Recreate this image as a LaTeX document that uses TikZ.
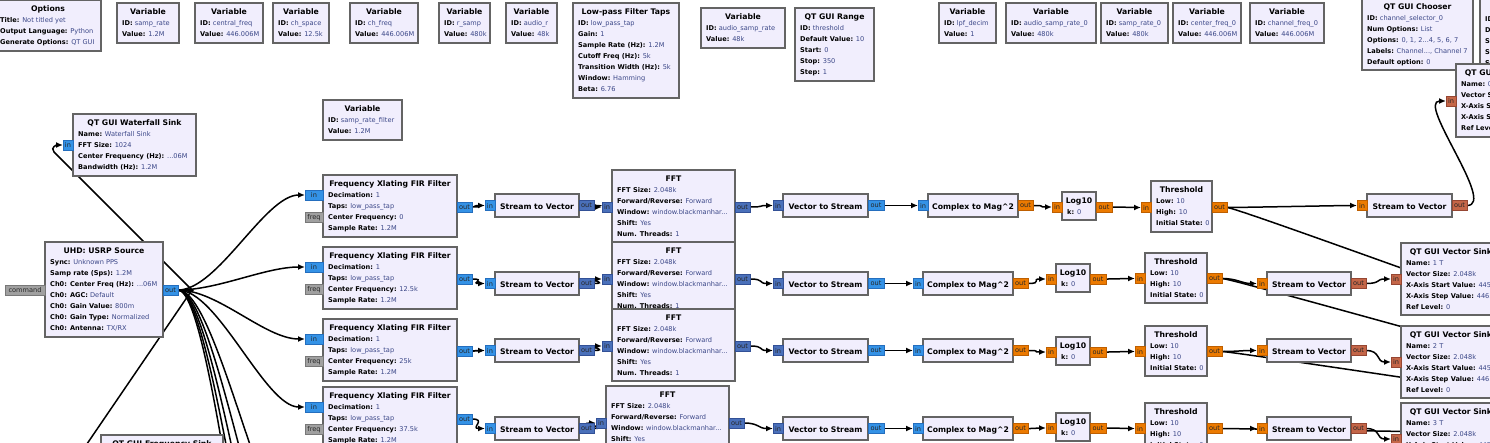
\documentclass[tikz,border=0pt]{standalone}
\usepackage{fontspec}
\setmainfont{DejaVu Sans}
\usetikzlibrary{calc,arrows.meta}
\pgfdeclarelayer{bg}
\pgfsetlayers{bg,main}
\definecolor{blkfill}{RGB}{241,238,253}
\definecolor{blkdraw}{RGB}{100,100,100}
\definecolor{valc}{RGB}{58,70,135}
\definecolor{cplx}{RGB}{52,146,230}
\definecolor{cplxd}{RGB}{36,110,190}
\definecolor{cvec}{RGB}{74,112,186}
\definecolor{cvecd}{RGB}{50,80,150}
\definecolor{flt}{RGB}{236,122,0}
\definecolor{fltd}{RGB}{190,95,0}
\definecolor{fvec}{RGB}{196,102,72}
\definecolor{fvecd}{RGB}{150,70,50}
\definecolor{msg}{RGB}{160,160,160}
\definecolor{msgd}{RGB}{120,120,120}
\tikzset{
 blk/.style={draw=blkdraw, fill=blkfill, line width=1.4pt, rectangle, inner sep=0pt, outer sep=0pt},
 ttl/.style={font=\bfseries\fontsize{7.7}{9}\selectfont, inner sep=0pt, text=black},
 prm/.style={font=\fontsize{6.6}{11}\selectfont, inner sep=0pt, align=left, text=valc},
 port/.style={rectangle, inner sep=0pt, outer sep=0pt, minimum height=10pt, line width=0.6pt, font=\fontsize{6.6}{8}\selectfont, text=black!85},
 pc/.style={port, fill=cplx, draw=cplxd},
 pv/.style={port, fill=cvec, draw=cvecd},
 pf/.style={port, fill=flt, draw=fltd},
 pfv/.style={port, fill=fvec, draw=fvecd},
 pm/.style={port, fill=msg, draw=msgd},
 conn/.style={draw=black, line width=1.5pt, -{Latex[length=7pt,width=6pt]}},
 wire/.style={draw=black, line width=1.5pt},
}
\newcommand\pl[2]{\rule{0pt}{7pt}\textbf{\color{black}#1:} #2}
\newcommand\gblk[7]{%
 \node[blk, minimum width=#4pt, minimum height=#5pt, anchor=north west] (#1) at (#2,#3) {};
 \node[ttl, anchor=base] (#1-t) at ($(#1.north)+(0,11)$) {#6};
 \node[prm, anchor=north west] (#1-p) at ($(#1.north west)+(5,15.3)$) {#7};}
\newcommand\sblk[6]{%
 \node[blk, minimum width=#4pt, minimum height=#5pt, anchor=north west] (#1) at (#2,#3) {};
 \node[ttl, anchor=base] (#1-t) at ($(#1.center)+(0,3.5)$) {#6};}
\newcommand\pin[6]{\node[#2, minimum width=#5pt, anchor=east] (#1) at (#3,#4) {#6};}
\newcommand\pout[6]{\node[#2, minimum width=#5pt, anchor=west] (#1) at (#3,#4) {#6};}
\newcommand\cn[2]{\draw[conn] (#1.east) .. controls +(15,0) and +(-15,0) .. (#2.west);}
\begin{document}
\begin{tikzpicture}[x=1pt,y=-1pt]
\useasboundingbox (0,0) rectangle (1490,442);
% ---------- top row ----------
\gblk{opt}{-5}{0}{106}{51}{Options}{\pl{Title}{Not titled yet}\\\pl{Output Language}{Python}\\\pl{Generate Options}{QT GUI}}
\gblk{v1}{117}{3}{62}{40}{Variable}{\pl{ID}{samp\_rate}\\\pl{Value}{1.2M}}
\gblk{v2}{195}{3}{68}{40}{Variable}{\pl{ID}{central\_freq}\\\pl{Value}{446.006M}}
\gblk{v3}{273}{3}{56}{40}{Variable}{\pl{ID}{ch\_space}\\\pl{Value}{12.5k}}
\gblk{v4}{350}{3}{68}{40}{Variable}{\pl{ID}{ch\_freq}\\\pl{Value}{446.006M}}
\gblk{v5}{439}{3}{51}{40}{Variable}{\pl{ID}{r\_samp}\\\pl{Value}{480k}}
\gblk{v6}{506}{3}{51}{40}{Variable}{\pl{ID}{audio\_r}\\\pl{Value}{48k}}
\gblk{lpf}{573}{3}{106}{95}{Low-pass Filter Taps}{\pl{ID}{low\_pass\_tap}\\\pl{Gain}{1}\\\pl{Sample Rate (Hz)}{1.2M}\\\pl{Cutoff Freq (Hz)}{5k}\\\pl{Transition Width (Hz)}{5k}\\\pl{Window}{Hamming}\\\pl{Beta}{6.76}}
\gblk{v7}{701}{8}{84}{40}{Variable}{\pl{ID}{audio\_samp\_rate}\\\pl{Value}{48k}}
\gblk{rng}{795}{8}{79}{73}{QT GUI Range}{\pl{ID}{threshold}\\\pl{Default Value}{10}\\\pl{Start}{0}\\\pl{Stop}{350}\\\pl{Step}{1}}
\gblk{v8}{939}{3}{57}{40}{Variable}{\pl{ID}{lpf\_decim}\\\pl{Value}{1}}
\gblk{v9}{1006}{3}{90}{40}{Variable}{\pl{ID}{audio\_samp\_rate\_0}\\\pl{Value}{480k}}
\gblk{v10}{1101}{3}{67}{40}{Variable}{\pl{ID}{samp\_rate\_0}\\\pl{Value}{480k}}
\gblk{v11}{1173}{3}{68}{40}{Variable}{\pl{ID}{center\_freq\_0}\\\pl{Value}{446.006M}}
\gblk{v12}{1250}{3}{74}{40}{Variable}{\pl{ID}{channel\_freq\_0}\\\pl{Value}{446.006M}}
\gblk{rng2}{1480}{-1}{80}{73}{QT GUI Range}{\pl{ID}{}\\\pl{Default Value}{}\\\pl{Start}{}\\\pl{Stop}{}\\\pl{Step}{}}
\gblk{cho}{1362}{-2}{111}{72}{QT GUI Chooser}{\pl{ID}{channel\_selector\_0}\\\pl{Num Options}{List}\\\pl{Options}{0, 1, 2...4, 5, 6, 7}\\\pl{Labels}{Channel..., Channel 7}\\\pl{Default option}{0}}
\gblk{vs0}{1456}{64}{100}{73}{QT GUI Vector Sink}{\pl{Name}{0 T}\\\pl{Vector Size}{2.048k}\\\pl{X-Axis Start Value}{445.406M}\\\pl{X-Axis Step Value}{446.006M}\\\pl{Ref Level}{0}}
\pin{vs0-in}{pfv}{1456}{101}{10}{in}
% ---------- middle ----------
\gblk{srf}{323}{100}{79}{40}{Variable}{\pl{ID}{samp\_rate\_filter}\\\pl{Value}{1.2M}}
\gblk{wf}{73}{114}{123}{62}{QT GUI Waterfall Sink}{\pl{Name}{Waterfall Sink}\\\pl{FFT Size}{1024}\\\pl{Center Frequency (Hz)}{...06M}\\\pl{Bandwidth (Hz)}{1.2M}}
\pin{wf-in}{pc}{73}{145}{10}{in}
\gblk{usrp}{45}{242}{118}{95}{UHD: USRP Source}{\pl{Sync}{Unknown PPS}\\\pl{Samp rate (Sps)}{1.2M}\\\pl{Ch0: Center Freq (Hz)}{...06M}\\\pl{Ch0: AGC}{Default}\\\pl{Ch0: Gain Value}{800m}\\\pl{Ch0: Gain Type}{Normalized}\\\pl{Ch0: Antenna}{TX/RX}}
\pin{usrp-cmd}{pm}{45}{290}{40}{command}
\pout{usrp-out}{pc}{163}{290}{15}{out}
\gblk{fs}{101}{435}{122}{72}{QT GUI Frequency Sink}{}
\pin{fs-in}{pc}{101}{471}{10}{in}
% FIR filters
\gblk{fir1}{323}{175}{134}{62}{Frequency Xlating FIR Filter}{\pl{Decimation}{1}\\\pl{Taps}{low\_pass\_tap}\\\pl{Center Frequency}{0}\\\pl{Sample Rate}{1.2M}}
\gblk{fir2}{323}{247}{134}{62}{Frequency Xlating FIR Filter}{\pl{Decimation}{1}\\\pl{Taps}{low\_pass\_tap}\\\pl{Center Frequency}{12.5k}\\\pl{Sample Rate}{1.2M}}
\gblk{fir3}{323}{319}{134}{62}{Frequency Xlating FIR Filter}{\pl{Decimation}{1}\\\pl{Taps}{low\_pass\_tap}\\\pl{Center Frequency}{25k}\\\pl{Sample Rate}{1.2M}}
\gblk{fir4}{323}{387}{134}{62}{Frequency Xlating FIR Filter}{\pl{Decimation}{1}\\\pl{Taps}{low\_pass\_tap}\\\pl{Center Frequency}{37.5k}\\\pl{Sample Rate}{1.2M}}
\pin{fir1-in}{pc}{323}{195}{18}{in}\pin{fir1-f}{pm}{323}{217.5}{18}{freq}\pout{fir1-out}{pc}{457}{207}{15}{out}
\pin{fir2-in}{pc}{323}{267}{18}{in}\pin{fir2-f}{pm}{323}{289.5}{18}{freq}\pout{fir2-out}{pc}{457}{279}{15}{out}
\pin{fir3-in}{pc}{323}{339}{18}{in}\pin{fir3-f}{pm}{323}{361.5}{18}{freq}\pout{fir3-out}{pc}{457}{351}{15}{out}
\pin{fir4-in}{pc}{323}{407}{18}{in}\pin{fir4-f}{pm}{323}{429.5}{18}{freq}\pout{fir4-out}{pc}{457}{419}{15}{out}
% Stream to Vector (left)
\sblk{sa1}{495}{194}{84}{23}{Stream to Vector}
\sblk{sa2}{495}{272}{84}{23}{Stream to Vector}
\sblk{sa3}{495}{339}{84}{23}{Stream to Vector}
\sblk{sa4}{495}{417}{84}{23}{Stream to Vector}
\pin{sa1-in}{pc}{495}{205.5}{10}{in}\pout{sa1-out}{pv}{579}{205.5}{15}{out}
\pin{sa2-in}{pc}{495}{283.5}{10}{in}\pout{sa2-out}{pv}{579}{283.5}{15}{out}
\pin{sa3-in}{pc}{495}{350.5}{10}{in}\pout{sa3-out}{pv}{579}{350.5}{15}{out}
\pin{sa4-in}{pc}{495}{428.5}{10}{in}\pout{sa4-out}{pv}{579}{428.5}{15}{out}
% FFT
\gblk{fft1}{612}{170}{123}{72}{FFT}{\pl{FFT Size}{2.048k}\\\pl{Forward/Reverse}{Forward}\\\pl{Window}{window.blackmanhar...}\\\pl{Shift}{Yes}\\\pl{Num. Threads}{1}}
\pin{fft1-in}{pv}{612}{207}{10}{in}\pout{fft1-out}{pv}{735}{207}{15}{out}
\gblk{fft2}{612}{242}{123}{72}{FFT}{\pl{FFT Size}{2.048k}\\\pl{Forward/Reverse}{Forward}\\\pl{Window}{window.blackmanhar...}\\\pl{Shift}{Yes}\\\pl{Num. Threads}{1}}
\pin{fft2-in}{pv}{612}{279}{10}{in}\pout{fft2-out}{pv}{735}{279}{15}{out}
\gblk{fft3}{612}{309}{123}{72}{FFT}{\pl{FFT Size}{2.048k}\\\pl{Forward/Reverse}{Forward}\\\pl{Window}{window.blackmanhar...}\\\pl{Shift}{Yes}\\\pl{Num. Threads}{1}}
\pin{fft3-in}{pv}{612}{346}{10}{in}\pout{fft3-out}{pv}{735}{346}{15}{out}
\gblk{fft4}{606}{386}{123}{72}{FFT}{\pl{FFT Size}{2.048k}\\\pl{Forward/Reverse}{Forward}\\\pl{Window}{window.blackmanhar...}\\\pl{Shift}{Yes}\\\pl{Num. Threads}{1}}
\pin{fft4-in}{pv}{606}{423}{10}{in}\pout{fft4-out}{pv}{729}{423}{15}{out}
% Vector to Stream
\sblk{vt1}{783}{194}{85}{23}{Vector to Stream}
\sblk{vt2}{783}{272}{85}{23}{Vector to Stream}
\sblk{vt3}{783}{339}{85}{23}{Vector to Stream}
\sblk{vt4}{783}{417}{85}{23}{Vector to Stream}
\pin{vt1-in}{pv}{783}{205.5}{10}{in}\pout{vt1-out}{pc}{868}{205.5}{16}{out}
\pin{vt2-in}{pv}{783}{283.5}{10}{in}\pout{vt2-out}{pc}{868}{283.5}{16}{out}
\pin{vt3-in}{pv}{783}{350.5}{10}{in}\pout{vt3-out}{pc}{868}{350.5}{16}{out}
\pin{vt4-in}{pv}{783}{428.5}{10}{in}\pout{vt4-out}{pc}{868}{428.5}{16}{out}
% Complex to Mag^2
\sblk{cm1}{928}{194}{90}{23}{Complex to Mag\textasciicircum{}2}
\sblk{cm2}{923}{272}{90}{23}{Complex to Mag\textasciicircum{}2}
\sblk{cm3}{923}{339}{90}{23}{Complex to Mag\textasciicircum{}2}
\sblk{cm4}{923}{417}{90}{23}{Complex to Mag\textasciicircum{}2}
\pin{cm1-in}{pc}{928}{205.5}{10}{in}\pout{cm1-out}{pf}{1018}{205.5}{15}{out}
\pin{cm2-in}{pc}{923}{283.5}{10}{in}\pout{cm2-out}{pf}{1013}{283.5}{15}{out}
\pin{cm3-in}{pc}{923}{350.5}{10}{in}\pout{cm3-out}{pf}{1013}{350.5}{15}{out}
\pin{cm4-in}{pc}{923}{428.5}{10}{in}\pout{cm4-out}{pf}{1013}{428.5}{15}{out}
% Log10
\gblk{lg1}{1062}{192}{34}{28}{Log10}{\pl{k}{0}}
\gblk{lg2}{1056}{264}{34}{28}{Log10}{\pl{k}{0}}
\gblk{lg3}{1056}{337}{34}{28}{Log10}{\pl{k}{0}}
\gblk{lg4}{1056}{413}{34}{28}{Log10}{\pl{k}{0}}
\pin{lg1-in}{pf}{1062}{207}{10}{in}\pout{lg1-out}{pf}{1096}{207}{16}{out}
\pin{lg2-in}{pf}{1056}{279}{10}{in}\pout{lg2-out}{pf}{1090}{279}{16}{out}
\pin{lg3-in}{pf}{1056}{352}{10}{in}\pout{lg3-out}{pf}{1090}{352}{16}{out}
\pin{lg4-in}{pf}{1056}{428}{10}{in}\pout{lg4-out}{pf}{1090}{428}{16}{out}
% Threshold
\gblk{th1}{1151}{181}{61}{51}{Threshold}{\pl{Low}{10}\\\pl{High}{10}\\\pl{Initial State}{0}}
\gblk{th2}{1145}{253}{62}{50}{Threshold}{\pl{Low}{10}\\\pl{High}{10}\\\pl{Initial State}{0}}
\gblk{th3}{1145}{326}{62}{50}{Threshold}{\pl{Low}{10}\\\pl{High}{10}\\\pl{Initial State}{0}}
\gblk{th4}{1145}{403}{62}{50}{Threshold}{\pl{Low}{10}\\\pl{High}{10}\\\pl{Initial State}{0}}
\pin{th1-in}{pf}{1151}{207.5}{10}{in}\pout{th1-out}{pf}{1212}{207.5}{15}{out}
\pin{th2-in}{pf}{1145}{278.5}{10}{in}\pout{th2-out}{pf}{1207}{278.5}{15}{out}
\pin{th3-in}{pf}{1145}{351.5}{10}{in}\pout{th3-out}{pf}{1207}{351.5}{15}{out}
\pin{th4-in}{pf}{1145}{428.5}{10}{in}\pout{th4-out}{pf}{1207}{428.5}{15}{out}
% Stream to Vector (right)
\sblk{sb1}{1367}{194}{85}{23}{Stream to Vector}
\sblk{sb2}{1267}{272}{84}{23}{Stream to Vector}
\sblk{sb3}{1267}{339}{84}{23}{Stream to Vector}
\sblk{sb4}{1267}{417}{84}{23}{Stream to Vector}
\pin{sb1-in}{pf}{1367}{205.5}{10}{in}\pout{sb1-out}{pfv}{1452}{205.5}{15}{out}
\pin{sb2-in}{pf}{1267}{283.5}{10}{in}\pout{sb2-out}{pfv}{1351}{283.5}{15}{out}
\pin{sb3-in}{pf}{1267}{350.5}{10}{in}\pout{sb3-out}{pfv}{1351}{350.5}{15}{out}
\pin{sb4-in}{pf}{1267}{428.5}{10}{in}\pout{sb4-out}{pfv}{1351}{428.5}{15}{out}
% QT GUI Vector Sinks
\gblk{vs1}{1401}{243}{100}{72}{QT GUI Vector Sink}{\pl{Name}{1 T}\\\pl{Vector Size}{2.048k}\\\pl{X-Axis Start Value}{445.406M}\\\pl{X-Axis Step Value}{446.006M}\\\pl{Ref Level}{0}}
\gblk{vs2}{1401}{326}{100}{72}{QT GUI Vector Sink}{\pl{Name}{2 T}\\\pl{Vector Size}{2.048k}\\\pl{X-Axis Start Value}{445.406M}\\\pl{X-Axis Step Value}{446.006M}\\\pl{Ref Level}{0}}
\gblk{vs3}{1401}{403}{100}{72}{QT GUI Vector Sink}{\pl{Name}{3 T}\\\pl{Vector Size}{2.048k}\\\pl{X-Axis Start Value}{445.406M}\\\pl{X-Axis Step Value}{446.006M}\\\pl{Ref Level}{0}}
\pin{vs1-in}{pfv}{1401}{279}{10}{in}
\pin{vs2-in}{pfv}{1401}{362}{10}{in}
\pin{vs3-in}{pfv}{1401}{439}{10}{in}
% off-canvas ends and bends
\coordinate (fx1) at (305,549);
\coordinate (fx2) at (305,621);
\coordinate (fx3) at (305,693);
\coordinate (fx4) at (305,765);
\coordinate (fx5) at (305,837);
\coordinate (tx1) at (1560,323);
\coordinate (tx2) at (1560,369);
\coordinate (tx3) at (1560,400);
\coordinate (tx4) at (1560,434);
\coordinate (wfbend) at (54,152);
\coordinate (fsbend) at (76,460);
% ---------- connections ----------
\begin{pgfonlayer}{bg}
\fill[white] (0,0) rectangle (1490,442);
\foreach \t in {fir1-in,fir2-in,fir3-in,fir4-in}
  \draw[conn] (usrp-out.east) .. controls +(40,0) and +(-40,0) .. (\t.west);
\foreach \t in {fx1,fx2,fx3,fx4,fx5}
  \draw[wire] (usrp-out.east) .. controls +(40,0) and +(-40,0) .. (\t);
\draw[conn] (usrp-out.east) -- ++(14,0) -- (wfbend) .. controls +(-4,-5) and +(-6,0) .. (wf-in.west);
\draw[conn] (usrp-out.east) -- ++(14,0) -- (fsbend) .. controls +(-4,6) and +(-6,0) .. (fs-in.west);
\foreach \r in {1,2,3,4}{
  \cn{fir\r-out}{sa\r-in}
  \cn{sa\r-out}{fft\r-in}
  \cn{fft\r-out}{vt\r-in}
  \cn{vt\r-out}{cm\r-in}
  \cn{cm\r-out}{lg\r-in}
  \cn{lg\r-out}{th\r-in}
  \cn{th\r-out}{sb\r-in}
  \draw[wire] (th\r-out.east) .. controls +(10,0) and +(-10,0) .. (tx\r);
}
\draw[conn] (sb1-out.east) .. controls +(30,0) and +(-30,0) .. (vs0-in.west);
\cn{sb2-out}{vs1-in}
\cn{sb3-out}{vs2-in}
\cn{sb4-out}{vs3-in}
\end{pgfonlayer}
\end{tikzpicture}
\end{document}
